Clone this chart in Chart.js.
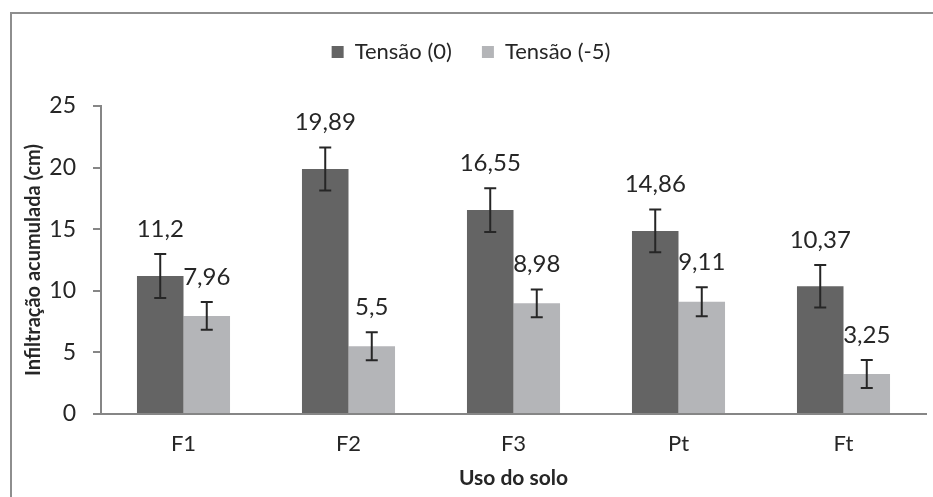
<!DOCTYPE html>
<html>
<head>
<meta charset="utf-8">
<script src="https://cdn.jsdelivr.net/npm/chart.js@4.4.1/dist/chart.umd.min.js"></script>
<style>
    html, body { margin: 0; padding: 0; background: #fff; overflow: hidden; }
    #wrap { position: relative; width: 933px; height: 497px; }
    #frame { position: absolute; left: 10px; top: 12px; width: 940px; height: 500px; border: 2px solid #8e8e8e; box-sizing: border-box; }
    canvas { position: absolute; left: 0; top: 0; }
</style>
</head>
<body>
<div id="wrap">
    <div id="frame"></div>
    <canvas id="grafico" width="933" height="497"></canvas>
</div>
<script>
// dados
const usos = ['F1', 'F2', 'F3', 'Pt', 'Ft'];
const tensao0 = [11.2, 19.89, 16.55, 14.86, 10.37];
const tensao5 = [7.96, 5.5, 8.98, 9.11, 3.25];
const erro0 = [1.78, 1.74, 1.78, 1.74, 1.72];
const erro5 = [1.13, 1.13, 1.13, 1.17, 1.13];
const yTicks = [0, 5, 10, 15, 20, 25];

const fonte = 'Lato, "Open Sans", sans-serif';
const corTexto = '#262626';
const corEixo = '#868686';

// barras de erro + rótulos de valor
const errorBars = {
    id: 'errorBars',
    afterDatasetsDraw(chart) {
        const ctx = chart.ctx;
        const y = chart.scales.y;
        const erros = [erro0, erro5];
        ctx.save();
        chart.data.datasets.forEach((ds, i) => {
            const meta = chart.getDatasetMeta(i);
            meta.data.forEach((bar, j) => {
                const v = ds.data[j];
                const e = erros[i][j];
                const top = y.getPixelForValue(v + e);
                const bot = y.getPixelForValue(v - e);
                ctx.strokeStyle = corTexto;
                ctx.lineWidth = 2;
                ctx.beginPath();
                ctx.moveTo(bar.x, top); ctx.lineTo(bar.x, bot);
                ctx.moveTo(bar.x - 6, top); ctx.lineTo(bar.x + 6, top);
                ctx.moveTo(bar.x - 6, bot); ctx.lineTo(bar.x + 6, bot);
                ctx.stroke();

                ctx.fillStyle = corTexto;
                ctx.font = '24px ' + fonte;
                ctx.textAlign = 'center';
                ctx.textBaseline = 'bottom';
                ctx.fillText(String(v).replace('.', ','), bar.x, top - 13);
            });
        });
        ctx.restore();
    }
};

// altura fixa da legenda
const legendaAltura = {
    id: 'legendaAltura',
    beforeInit(chart) {
        const fitOrig = chart.legend.fit;
        chart.legend.fit = function () {
            fitOrig.bind(chart.legend)();
            this.height = 95;
        };
    }
};

const ctx = document.getElementById('grafico').getContext('2d');
const grafico = new Chart(ctx, {
    type: 'bar',
    data: {
        labels: usos,
        datasets: [{
            label: 'Tensão (0)',
            data: tensao0,
            backgroundColor: '#646464',
            categoryPercentage: 0.564,
            barPercentage: 1
        }, {
            label: 'Tensão (-5)',
            data: tensao5,
            backgroundColor: '#b4b5b8',
            categoryPercentage: 0.564,
            barPercentage: 1
        }]
    },
    options: {
        responsive: false,
        animation: false,
        layout: { padding: { left: 16, right: 7, top: 11, bottom: 0 } },
        plugins: {
            legend: {
                position: 'top',
                labels: {
                    boxWidth: 12,
                    boxHeight: 12,
                    padding: 30,
                    color: corTexto,
                    font: { family: fonte, size: 22 }
                }
            },
            tooltip: { enabled: false }
        },
        scales: {
            x: {
                afterFit: (s) => { s.height = 83; },
                grid: { display: false, drawTicks: false },
                border: { color: corEixo, width: 2 },
                ticks: { color: corTexto, font: { family: fonte, size: 22 }, padding: 17 },
                title: {
                    display: true,
                    text: 'Uso do solo',
                    color: corTexto,
                    font: { family: fonte, size: 21, weight: 'bold' },
                    padding: { top: 0, bottom: 6 }
                }
            },
            y: {
                min: 0,
                max: 25,
                afterFit: (s) => { s.width = 85; },
                afterBuildTicks: (s) => { s.ticks = yTicks.map(v => ({ value: v })); },
                grid: { display: true, drawOnChartArea: false, drawTicks: true, tickLength: 8, color: corEixo, lineWidth: 2 },
                border: { color: corEixo, width: 2 },
                ticks: { color: corTexto, font: { family: fonte, size: 23 }, padding: 17 },
                title: {
                    display: true,
                    text: 'Infiltração acumulada (cm)',
                    color: corTexto,
                    font: { family: fonte, size: 20, weight: 'bold' },
                    padding: { top: 6, bottom: 0 }
                }
            }
        }
    },
    plugins: [errorBars, legendaAltura]
});
</script>
</body>
</html>
